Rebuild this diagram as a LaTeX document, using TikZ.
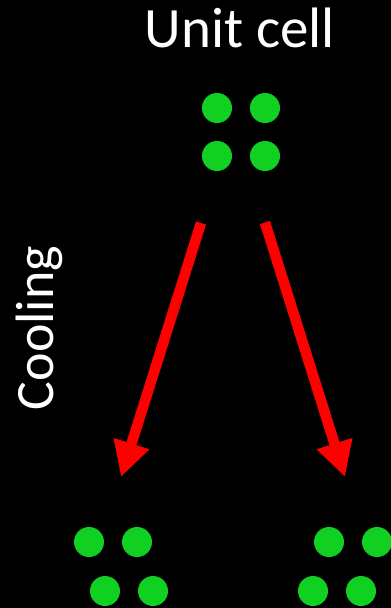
\documentclass[tikz,border=0pt]{standalone}
\usepackage{fontspec}
\setmainfont{Carlito}
\usetikzlibrary{arrows.meta}
\definecolor{dotgreen}{RGB}{16,208,34}
\tikzset{
  atom/.style={circle, fill=dotgreen, draw=none, minimum size=30pt, inner sep=0pt},
  coolarrow/.style={draw=red, line width=10.5pt,
    -{Triangle[length=35pt, width=35pt, fill=red]}},
  label text/.style={text=white, font=\fontsize{57}{60}\selectfont, inner sep=0pt}
}
\begin{document}
\begin{tikzpicture}[x=1pt, y=-1pt]
  \fill[black] (0,0) rectangle (391,608);
  \useasboundingbox (0,0) rectangle (391,608);

  % titles
  \node[label text, anchor=base] (title) at (240,47) {Unit cell};
  \node[label text, font=\fontsize{54}{58}\selectfont, anchor=base, rotate=90] (cool) at (53,328) {Cooling};

  % high-temperature unit cell
  \node[atom] (t1) at (217,108) {};
  \node[atom] (t2) at (265,108) {};
  \node[atom] (t3) at (217,156) {};
  \node[atom] (t4) at (265,156) {};

  % low-temperature cell, left variant
  \node[atom] (l1) at (89,542) {};
  \node[atom] (l2) at (137,542) {};
  \node[atom] (l3) at (105,591) {};
  \node[atom] (l4) at (153,591) {};

  % low-temperature cell, right variant
  \node[atom] (r1) at (329,542) {};
  \node[atom] (r2) at (377,542) {};
  \node[atom] (r3) at (313,591) {};
  \node[atom] (r4) at (361,591) {};

  % arrow end points
  \coordinate (aLs) at (201,223);
  \coordinate (aLe) at (121,477);
  \coordinate (aRs) at (265,222.5);
  \coordinate (aRe) at (345,477);

  \draw[coolarrow] (aLs) -- (aLe);
  \draw[coolarrow] (aRs) -- (aRe);
\end{tikzpicture}
\end{document}
